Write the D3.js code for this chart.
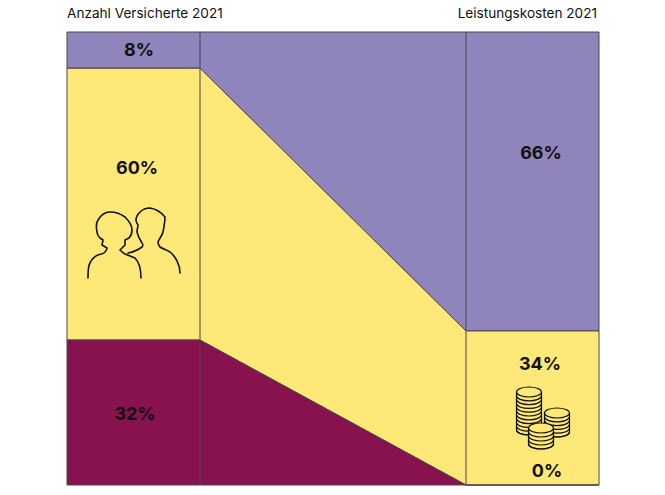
<!DOCTYPE html>
<html>
<head>
<meta charset="utf-8">
<script src="https://cdn.jsdelivr.net/npm/d3@7"></script>
<style>
html, body { margin: 0; padding: 0; background: #fff; }
svg { display: block; }
text { font-family: Inter, "Noto Sans", sans-serif; fill: #111; }
.title { font-size: 13.6px; }
.pct { font-size: 18px; font-weight: 700; }
</style>
</head>
<body>
<script>
var columnTitles = ["Anzahl Versicherte 2021", "Leistungskosten 2021"];
var seriesNames = ["lila", "gelb", "rot"];
var seriesColors = ["#8f84bc", "#fee878", "#88124e"];
var versicherte = [8, 60, 32];
var kosten = [66, 34, 0];

var width = 665, height = 495;
var stroke = "#4a4650";

var x = d3.scaleLinear().domain([0, 1]).range([67, 599]);
var barShare = 0.25;
var y = d3.scaleLinear().domain([0, 100]).range([32, 485]);

var svg = d3.select("body").append("svg")
    .attr("width", width)
    .attr("height", height);

function stack(values) {
    var sum = 0;
    return values.map(function(v) {
        var s = {y0: sum, y1: sum + v, value: v};
        sum += v;
        return s;
    });
}

var left = stack(versicherte);
var right = stack(kosten);

var bands = d3.area()
    .x(function(d) { return x(d.x); })
    .y0(function(d) { return y(d.s.y0); })
    .y1(function(d) { return y(d.s.y1); });

seriesNames.forEach(function(name, i) {
    svg.append("path")
        .attr("class", "band " + name)
        .attr("d", bands([
            {x: 0, s: left[i]},
            {x: barShare, s: left[i]},
            {x: 1 - barShare, s: right[i]},
            {x: 1, s: right[i]}
        ]))
        .attr("fill", seriesColors[i])
        .attr("stroke", stroke)
        .attr("stroke-width", 1);
});

// column dividers
[barShare, 1 - barShare].forEach(function(d) {
    svg.append("line")
        .attr("x1", x(d)).attr("x2", x(d))
        .attr("y1", y(0)).attr("y2", y(100))
        .attr("stroke", stroke);
});

svg.append("text").attr("class", "title")
    .attr("x", x(0)).attr("y", 18)
    .text(columnTitles[0]);
svg.append("text").attr("class", "title")
    .attr("x", x(1) - 2).attr("y", 18)
    .attr("text-anchor", "end")
    .text(columnTitles[1]);

function pct(v, cx, cy) {
    svg.append("text").attr("class", "pct")
        .attr("x", cx).attr("y", cy)
        .attr("text-anchor", "middle")
        .text(v + "%");
}
pct(versicherte[0], 139, 56);
pct(versicherte[1], 137, 174);
pct(versicherte[2], 135, 420);
pct(kosten[0], 541, 159);
pct(kosten[1], 540, 370);
pct(kosten[2], 547, 477);

// people icon
var people = svg.append("g")
    .attr("fill", "none")
    .attr("stroke", "#111")
    .attr("stroke-width", 1.6)
    .attr("stroke-linejoin", "round")
    .attr("stroke-linecap", "round");
people.append("path").attr("d",
    "M88,278 C88,270 88,266 90,263 C92,259 95,256 98,255 C101,254 104,254 105,252 C106,251 107,250 107,248 " +
    "L102,245 L103,240 L100,238 C98,236 97,234 97,232 C96,227 96,223 98,220 C101,215 105,212 110,212 " +
    "C116,212 121,214 125,217 C129,221 132,225 132,230 C132,234 131,236 129,238 L125,240 L125,245 L120,250 " +
    "C122,252 123,253 125,254 L135,258 C139,262 141,270 141,278");
people.append("path").attr("d",
    "M128,253 C133,252 138,250 142,247 C143,246 143,244 142,243 C140,240 138,236 137,232 " +
    "C137,229 138,227 138,225 C137,223 136,222 136,220 C136,217 138,214 140,212 C143,209 147,208 150,208 " +
    "C156,209 161,212 165,217 C165,222 164,227 163,232 C162,236 159,239 158,242 C158,244 159,246 160,247 " +
    "C163,249 167,250 170,252 C175,256 180,264 180,273");

// coin stacks icon
var coins = svg.append("g")
    .attr("fill", "#fee878")
    .attr("stroke", "#111")
    .attr("stroke-width", 1.2);

function coinStack(cx, top, count, step) {
    var rx = 12.5, ry = 5;
    var bottom = top + count * step;
    coins.append("path").attr("d",
        "M" + (cx - rx) + "," + top + " V" + bottom +
        " A" + rx + "," + ry + " 0 0 0 " + (cx + rx) + "," + bottom +
        " V" + top);
    d3.range(1, count + 1).forEach(function(i) {
        coins.append("path")
            .attr("fill", "none")
            .attr("d", "M" + (cx - rx) + "," + (top + i * step) +
                " A" + rx + "," + ry + " 0 0 0 " + (cx + rx) + "," + (top + i * step));
    });
    coins.append("ellipse")
        .attr("cx", cx).attr("cy", top)
        .attr("rx", rx).attr("ry", ry);
}
coinStack(529, 392, 10, 3.8);
coinStack(557, 413, 5, 3.8);
coinStack(541, 428, 4, 4);
</script>
</body>
</html>
